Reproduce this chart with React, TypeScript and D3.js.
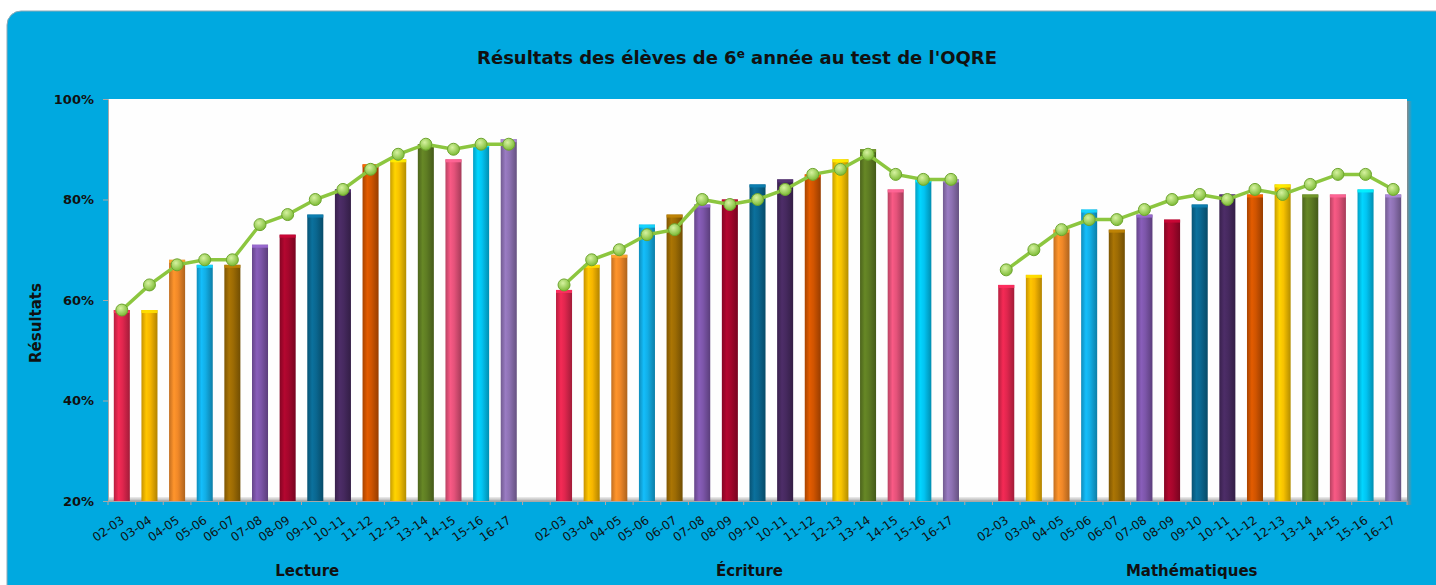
import React, { useEffect, useRef } from "react";
import * as d3 from "d3";

const years = ["02-03", "03-04", "04-05", "05-06", "06-07", "07-08", "08-09", "09-10", "10-11", "11-12", "12-13", "13-14", "14-15", "15-16", "16-17"];
const subjects = ["Lecture", "Écriture", "Mathématiques"];

// bars = school board, line = province
const lectureBars = [58, 58, 68, 67, 67, 71, 73, 77, 82, 87, 88, 91, 88, 91, 92];
const lectureLine = [58, 63, 67, 68, 68, 75, 77, 80, 82, 86, 89, 91, 90, 91, 91];
const ecritureBars = [62, 67, 69, 75, 77, 79, 80, 83, 84, 85, 88, 90, 82, 84, 84];
const ecritureLine = [63, 68, 70, 73, 74, 80, 79, 80, 82, 85, 86, 89, 85, 84, 84];
const mathBars = [63, 65, 74, 78, 74, 77, 76, 79, 81, 81, 83, 81, 81, 82, 81];
const mathLine = [66, 70, 74, 76, 76, 78, 80, 81, 80, 82, 81, 83, 85, 85, 82];

const yearColors = ["#e0264e", "#f6b500", "#f08828", "#12aee6", "#9c6b04", "#7d56aa", "#a5062c", "#0a6790", "#46295f", "#d05400", "#f7c200", "#5e7c23", "#e4527a", "#02c4f2", "#8d71b2"];
const yTicks = [0.2, 0.4, 0.6, 0.8, 1];

const barSeries = [lectureBars, ecritureBars, mathBars];
const lineSeries = [lectureLine, ecritureLine, mathLine];

export default function App() {
  const ref = useRef<SVGSVGElement>(null);

  useEffect(() => {
    const svg = d3.select(ref.current);
    svg.selectAll("*").remove();

    const left = 108, right = 1407, top = 99, bottom = 501;
    const font = "'DejaVu Sans', Verdana, sans-serif";

    const slots: string[] = [];
    subjects.forEach((s, i) => {
      years.forEach((yr) => slots.push(s + "|" + yr));
      if (i < subjects.length - 1) slots.push("gap" + i);
    });

    const x = d3.scaleBand<string>().domain(slots).range([left, right]);
    const y = d3.scaleLinear().domain([0.2, 1]).range([bottom, top]);
    const bw = x.bandwidth();
    const barW = bw * 0.58;

    const defs = svg.append("defs");
    yearColors.forEach((c, i) => {
      const base = d3.color(c)!;
      const g = defs.append("linearGradient").attr("id", "bar" + i);
      [[0, base.darker(0.6)], [0.3, base.brighter(0.25)], [0.55, base], [1, base.darker(0.9)]].forEach(([o, col]) => {
        g.append("stop").attr("offset", o as number).attr("stop-color", String(col));
      });
    });
    const floor = defs.append("linearGradient").attr("id", "floor").attr("x1", 0).attr("x2", 0).attr("y1", 0).attr("y2", 1);
    floor.append("stop").attr("offset", 0).attr("stop-color", "#eeeeee");
    floor.append("stop").attr("offset", 1).attr("stop-color", "#a0a0a0");
    const shade = defs.append("linearGradient").attr("id", "shade");
    shade.append("stop").attr("offset", 0).attr("stop-color", "#8a8a8a");
    shade.append("stop").attr("offset", 1).attr("stop-color", "#8a8a8a").attr("stop-opacity", 0);
    const dot = defs.append("radialGradient").attr("id", "dot").attr("cx", 0.4).attr("cy", 0.35).attr("r", 0.65);
    dot.append("stop").attr("offset", 0).attr("stop-color", "#d6f2a0");
    dot.append("stop").attr("offset", 1).attr("stop-color", "#7dbb36");

    // blue panel
    svg.append("rect").attr("x", 7).attr("y", 11).attr("width", 1450).attr("height", 620).attr("rx", 14)
      .attr("fill", "#00a9e0").attr("stroke", "#8fa9b5").attr("stroke-width", 1);

    // title
    const title = svg.append("text").attr("x", 737).attr("y", 64).attr("text-anchor", "middle")
      .style("font-family", font).style("font-size", "18px").style("font-weight", "bold").attr("fill", "#111");
    title.append("tspan").text("Résultats des élèves de 6");
    title.append("tspan").attr("dy", -6).style("font-size", "12px").text("e");
    title.append("tspan").attr("dy", 6).text(" année au test de l'OQRE");

    // plot area
    svg.append("rect").attr("x", right).attr("y", top + 2).attr("width", 5).attr("height", bottom - top + 2).attr("fill", "url(#shade)");
    svg.append("rect").attr("x", left).attr("y", top).attr("width", right - left).attr("height", bottom - top).attr("fill", "#fefefe");
    svg.append("rect").attr("x", left).attr("y", bottom - 4).attr("width", right - left).attr("height", 5).attr("fill", "url(#floor)");

    // y axis
    const yAxis = svg.append("g").attr("transform", `translate(${left},0)`)
      .call(d3.axisLeft(y).tickValues(yTicks).tickFormat(d3.format(".0%") as any).tickSize(5).tickPadding(9));
    yAxis.select(".domain").attr("stroke", "#a8a8a8");
    yAxis.selectAll(".tick line").attr("stroke", "#a8a8a8");
    yAxis.selectAll("text").style("font-family", font).style("font-size", "13px").style("font-weight", "bold").attr("fill", "#111");

    svg.append("text").attr("transform", "translate(41,323) rotate(-90)").attr("text-anchor", "middle")
      .style("font-family", font).style("font-size", "15px").style("font-weight", "bold").attr("fill", "#111").text("Résultats");

    // x axis: ticks on band boundaries, labels under bars
    svg.append("g").selectAll("line").data([...slots, "end"]).join("line")
      .attr("x1", (d) => (d === "end" ? right : x(d)!)).attr("x2", (d) => (d === "end" ? right : x(d)!))
      .attr("y1", bottom).attr("y2", bottom + 4).attr("stroke", "#b5a5a5");
    svg.append("line").attr("x1", left).attr("x2", right).attr("y1", bottom).attr("y2", bottom).attr("stroke", "#a8a8a8");

    const xAxis = svg.append("g").attr("transform", `translate(0,${bottom})`)
      .call(d3.axisBottom(x).tickValues(slots.filter((s) => !s.startsWith("gap"))).tickFormat((d) => d.split("|")[1]).tickSize(0));
    xAxis.select(".domain").remove();
    xAxis.selectAll("text").attr("text-anchor", "end").attr("x", -9.5).attr("y", 19).attr("dy", 0)
      .attr("transform", "rotate(-35)").style("font-family", font).style("font-size", "12px").attr("fill", "#111");

    subjects.forEach((s) => {
      const cx = (x(s + "|" + years[0])! + x(s + "|" + years[years.length - 1])! + bw) / 2;
      svg.append("text").attr("x", cx - 8).attr("y", 576).attr("text-anchor", "middle")
        .style("font-family", font).style("font-size", "15px").style("font-weight", "bold").attr("fill", "#111").text(s);
    });

    // bars
    subjects.forEach((s, i) => {
      const g = svg.append("g");
      const data = barSeries[i].map((v, j) => ({ key: s + "|" + years[j], v: v / 100, j }));
      g.selectAll("rect.bar").data(data).join("rect").attr("class", "bar")
        .attr("x", (d) => x(d.key)! + (bw - barW) / 2).attr("y", (d) => y(d.v))
        .attr("width", barW).attr("height", (d) => bottom - y(d.v))
        .attr("fill", (d) => `url(#bar${d.j})`);
      g.selectAll("rect.cap").data(data).join("rect").attr("class", "cap")
        .attr("x", (d) => x(d.key)! + (bw - barW) / 2).attr("y", (d) => y(d.v))
        .attr("width", barW).attr("height", 3)
        .attr("fill", (d) => d3.color(yearColors[d.j])!.brighter(0.6).toString()).attr("opacity", 0.9);
    });

    // lines
    const line = d3.line<{ key: string; v: number }>().x((d) => x(d.key)! + bw / 2).y((d) => y(d.v));
    subjects.forEach((s, i) => {
      const data = lineSeries[i].map((v, j) => ({ key: s + "|" + years[j], v: v / 100 }));
      svg.append("path").datum(data).attr("d", line).attr("fill", "none").attr("stroke", "#8cc63f").attr("stroke-width", 3.5);
      svg.append("g").selectAll("circle").data(data).join("circle")
        .attr("cx", (d) => x(d.key)! + bw / 2).attr("cy", (d) => y(d.v)).attr("r", 6)
        .attr("fill", "url(#dot)").attr("stroke", "#6ea52f").attr("stroke-width", 1);
    });
  }, []);

  return (
    <svg ref={ref} width={1436} height={585} style={{ position: "absolute", left: 0, top: 0, background: "#fff" }} />
  );
}
